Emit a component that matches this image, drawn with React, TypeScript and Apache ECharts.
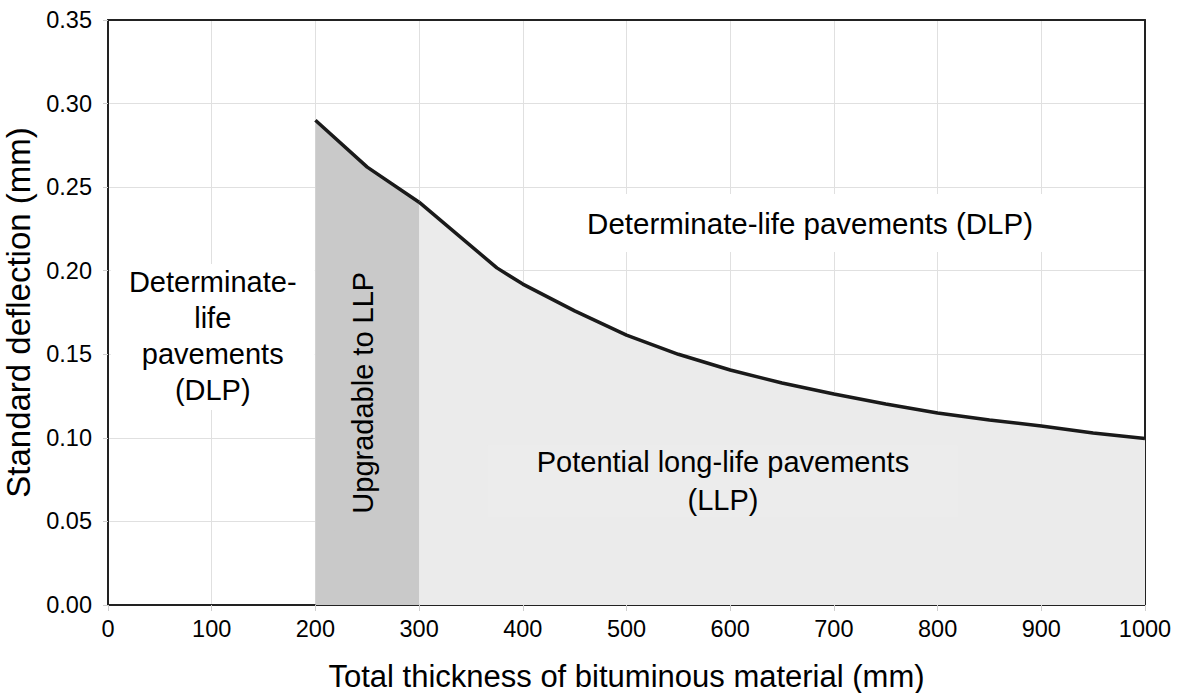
import React, { useEffect, useRef } from "react";
import * as echarts from "echarts";

const xTicks = [0, 100, 200, 300, 400, 500, 600, 700, 800, 900, 1000];
const yTicks = [0, 0.05, 0.1, 0.15, 0.2, 0.25, 0.3, 0.35];

// Upgradable zone (200–300 mm)
const upgradeThickness = [200, 250, 300];
const upgradeDeflection = [0.29, 0.262, 0.241];

// Potential LLP zone (300–1000 mm)
const llpThickness = [300, 375, 400, 450, 500, 550, 600, 650, 700, 750, 800, 850, 900, 950, 1000];
const llpDeflection = [0.241, 0.2017, 0.192, 0.176, 0.1615, 0.15, 0.1406, 0.1328, 0.1262, 0.1203, 0.1149, 0.1107, 0.1071, 0.1029, 0.0996];

const FONT = "'Liberation Sans', Arial, sans-serif";

export default function App() {
  const ref = useRef<HTMLDivElement>(null);
  useEffect(() => {
    document.body.style.margin = "0";
    if (!ref.current) return;
    const chart = echarts.init(ref.current, undefined, { renderer: "svg" });
    const lineStyle = { color: "#1a1a1a", width: 3.5 };
    chart.setOption({
      animation: false,
      backgroundColor: "#ffffff",
      textStyle: { fontFamily: FONT },
      grid: { left: 108, right: 39, top: 20, bottom: 88, containLabel: false, outerBoundsMode: "none" },
      xAxis: [
        {
          type: "value",
          min: xTicks[0],
          max: xTicks[xTicks.length - 1],
          interval: 100,
          name: "Total thickness of bituminous material (mm)",
          nameLocation: "middle",
          nameGap: 56,
          nameTextStyle: { fontSize: 31, color: "#000", fontFamily: FONT },
          axisLine: { show: true, lineStyle: { color: "#222", width: 2 } },
          axisTick: { show: true, length: 6, lineStyle: { color: "#cfcfcf" } },
          axisLabel: { fontSize: 23.5, color: "#000", margin: 12, fontFamily: FONT, formatter: (v: number) => String(v) },
          splitLine: { show: true, lineStyle: { color: "#e0e0e0", width: 1 } },
        },
        {
          type: "value",
          position: "top",
          min: 0,
          max: 1000,
          axisLine: { show: true, onZero: false, lineStyle: { color: "#222", width: 2 } },
          axisTick: { show: false },
          axisLabel: { show: false },
          splitLine: { show: false },
        },
      ],
      yAxis: [
        {
          type: "value",
          min: yTicks[0],
          max: yTicks[yTicks.length - 1],
          interval: 0.05,
          name: "Standard deflection (mm)",
          nameLocation: "middle",
          nameGap: 68,
          nameTextStyle: { fontSize: 33, color: "#000", fontFamily: FONT },
          axisLine: { show: true, lineStyle: { color: "#222", width: 2 } },
          axisTick: { show: true, length: 5, lineStyle: { color: "#cfcfcf" } },
          axisLabel: {
            fontSize: 23.5,
            color: "#000",
            margin: 16,
            fontFamily: FONT,
            formatter: (v: number) => v.toFixed(2),
          },
          splitLine: { show: true, lineStyle: { color: "#e0e0e0", width: 1 } },
        },
        {
          type: "value",
          position: "right",
          min: 0,
          max: 0.35,
          axisLine: { show: true, onZero: false, lineStyle: { color: "#222", width: 2 } },
          axisTick: { show: false },
          axisLabel: { show: false },
          splitLine: { show: false },
        },
      ],
      series: [
        {
          type: "line",
          data: upgradeThickness.map((x, i) => [x, upgradeDeflection[i]]),
          showSymbol: false,
          lineStyle,
          areaStyle: { color: "#c9c9c9", opacity: 1 },
          z: 3,
        },
        {
          type: "line",
          data: llpThickness.map((x, i) => [x, llpDeflection[i]]),
          showSymbol: false,
          lineStyle,
          areaStyle: { color: "#ebebeb", opacity: 1 },
          z: 3,
        },
      ],
    });

    const px = (x: number, y: number) => chart.convertToPixel({ xAxisIndex: 0, yAxisIndex: 0 }, [x, y]) as number[];
    const dlpTop = px(677, 0.228);
    const dlpLeft = px(101, 0.161);
    const upg = px(246, 0.127);
    const llp = px(593, 0.074);
    const txt = (x: number, y: number, text: string, lh: number, size: number, extra: any = {}) => ({
      type: "text",
      x,
      y,
      z: 50,
      style: {
        text,
        fill: "#000",
        font: `${size}px ${FONT}`,
        align: "center",
        verticalAlign: "middle",
        lineHeight: lh,
      },
      ...extra,
    });
    chart.setOption({
      graphic: [
        { type: "rect", z: 40, shape: { x: dlpTop[0] - 262, y: dlpTop[1] - 30, width: 524, height: 58 }, style: { fill: "#ffffff" } },
        txt(dlpTop[0], dlpTop[1], "Determinate-life pavements (DLP)", 36, 29.5),
        { type: "rect", z: 40, shape: { x: dlpLeft[0] - 102, y: dlpLeft[1] - 72, width: 204, height: 146 }, style: { fill: "#ffffff" } },
        txt(dlpLeft[0], dlpLeft[1], "Determinate-\nlife\npavements\n(DLP)", 36, 29),
        { type: "rect", z: 40, shape: { x: upg[0] - 29, y: upg[1] - 177, width: 62, height: 315 }, style: { fill: "#c9c9c9" } },
        txt(upg[0], upg[1], "Upgradable to LLP", 36, 29, { rotation: Math.PI / 2 }),
        { type: "rect", z: 40, shape: { x: llp[0] - 235, y: llp[1] - 36, width: 470, height: 72 }, style: { fill: "#ececec" } },
        txt(llp[0], llp[1], "Potential long-life pavements\n(LLP)", 38, 29),
      ],
    });
    return () => chart.dispose();
  }, []);
  return <div ref={ref} style={{ width: 1184, height: 693 }} />;
}
